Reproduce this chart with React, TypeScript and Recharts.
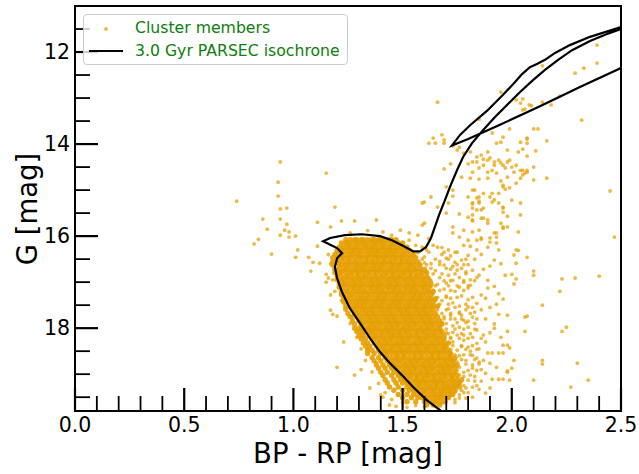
import { ScatterChart, Scatter, XAxis, YAxis, ReferenceArea } from "recharts";

const FONT = "'DejaVu Sans', sans-serif";
const ORANGE = "#E69F00";

// looser members: [BP-RP, G]
const members: [number, number][] = [
  // blue stragglers / blue side
  [0.74, 15.24], [0.94, 14.39], [1.15, 14.63], [0.93, 14.83], [0.93, 15.13], [0.94, 15.41], [0.97, 15.39],
  [0.86, 15.63], [0.94, 15.63], [0.97, 15.74], [0.88, 15.85], [0.96, 15.87], [0.98, 15.91], [0.94, 15.98],
  [0.98, 16.02], [1.01, 16.0], [0.84, 16.07], [0.82, 16.17], [0.9, 16.39], [1.02, 16.3], [1.01, 16.46],
  [1.11, 15.7], [1.17, 15.8], [1.19, 15.37], [1.07, 16.46], [1.09, 16.57], [1.12, 16.59], [1.11, 16.22],
  [1.08, 16.76], [1.15, 16.83], [1.15, 17.0], [1.16, 16.91], [1.17, 17.28], [1.17, 17.61], [1.18, 17.7],
  [1.2, 17.74], [1.2, 18.85],
  // around the turn-off
  [1.22, 15.67], [1.28, 15.67], [1.38, 15.65], [1.41, 15.91], [1.49, 15.87], [1.53, 15.93], [1.59, 15.76],
  [1.53, 16.09], [1.57, 15.98], [1.66, 15.37], [1.6, 15.26], [1.7, 15.5], [1.73, 15.93], [1.82, 15.65],
  [1.89, 15.65], [1.93, 16.02], [1.59, 15.28], [1.63, 15.15], [1.6, 15.72], [1.64, 16.2], [1.59, 16.24],
  [1.66, 16.24], [1.47, 16.12], [1.5, 16.16], [1.56, 16.2], [1.61, 16.3], [1.45, 15.98], [1.34, 15.88],
  [1.26, 15.93], [1.62, 16.05], [1.52, 16.3], [1.55, 16.42],
  // blueward of the main sequence
  [1.16, 16.4], [1.17, 16.6], [1.18, 16.95], [1.19, 17.2], [1.21, 17.1], [1.22, 17.4], [1.24, 17.55],
  [1.27, 17.75], [1.26, 17.9], [1.3, 18.05], [1.29, 18.2], [1.23, 18.3], [1.31, 18.45], [1.34, 18.45],
  [1.33, 18.7], [1.38, 18.75], [1.31, 18.9], [1.36, 18.95], [1.28, 19.02], [1.39, 19.2], [1.35, 19.3],
  [1.42, 19.4], [1.4, 19.45], [1.45, 19.55], [1.41, 19.5], [1.44, 19.67], [1.47, 19.7], [1.52, 19.72],
  [1.5, 19.62], [1.56, 19.68], [1.6, 19.7], [1.66, 19.66], [1.7, 19.6],
  // giant branch and red clump
  [1.66, 13.09], [1.85, 13.46], [1.95, 12.87], [2.04, 13.11], [2.02, 13.04], [2.05, 13.26], [2.08, 13.15],
  [1.99, 13.67], [1.96, 13.85], [1.95, 13.96], [1.93, 13.98], [1.91, 13.76], [2.07, 13.87], [2.07, 13.98],
  [2.1, 13.67], [1.98, 14.13], [2.04, 13.96], [2.03, 14.17],
  [1.81, 14.17], [1.84, 14.28], [1.86, 14.24], [1.89, 14.35], [1.9, 14.3], [1.92, 14.39], [1.95, 14.41],
  [1.96, 14.46], [1.94, 14.35], [1.98, 14.39], [1.99, 14.35], [1.97, 14.52], [2.0, 14.5], [2.02, 14.46],
  [2.04, 14.57], [2.01, 14.61], [2.07, 14.61], [2.05, 14.67], [1.87, 14.46], [1.85, 14.52], [1.82, 14.61],
  [1.89, 14.61], [1.91, 14.57], [1.93, 14.63], [1.89, 14.17], [1.82, 14.39], [1.8, 14.43], [1.78, 14.2],
  [1.75, 14.13], [1.73, 14.04], [1.68, 13.8], [1.64, 13.87], [1.65, 13.98], [1.69, 13.98], [1.69, 13.91],
  [1.62, 13.98], [1.76, 14.07], [1.84, 14.39], [1.92, 14.46], [1.87, 14.33],
  [1.69, 14.54], [1.72, 14.43], [1.77, 14.72], [1.81, 14.74], [1.85, 14.76], [1.89, 14.74], [1.95, 14.8],
  [1.98, 14.72], [2.04, 14.74], [2.07, 14.57], [1.96, 14.93], [1.83, 15.0], [1.8, 15.15], [1.73, 15.0],
  [1.73, 15.13], [1.7, 14.93], [1.71, 15.28], [1.82, 15.28], [1.85, 15.15], [1.85, 15.28], [1.9, 15.15],
  [1.91, 15.26], [1.94, 15.28], [1.96, 15.39], [1.82, 15.39], [1.84, 15.43], [1.87, 15.39], [1.76, 15.52],
  [1.8, 15.59], [1.82, 15.67], [1.86, 15.61], [1.89, 15.72], [1.73, 15.8], [1.78, 15.87], [1.82, 15.91],
  [1.85, 15.87], [1.92, 15.93], [1.96, 15.8], [1.76, 16.02], [1.8, 16.09], [1.86, 16.04], [1.9, 16.13],
  [1.93, 16.15], [1.98, 15.8], [2.03, 15.91],
  [1.96, 14.89], [1.97, 14.98], [1.99, 14.95], [2.02, 14.85], [1.94, 15.07], [1.91, 15.07], [1.92, 15.21],
  [2.0, 15.22], [1.96, 15.37], [1.96, 15.48], [1.98, 15.57], [1.87, 15.07], [1.82, 15.0], [1.84, 15.17],
  [1.85, 15.24], [1.82, 15.3], [1.86, 15.43], [1.82, 15.54], [1.87, 15.61], [1.95, 15.72], [1.96, 15.83],
  [1.93, 15.93], [1.9, 16.04], [1.86, 16.07], [1.84, 16.09],
  // bright red side
  [2.39, 11.85], [2.33, 12.35], [2.29, 12.46], [2.39, 12.24], [2.14, 12.3], [2.22, 12.96], [2.05, 13.02],
  [2.06, 13.24], [2.09, 13.17], [2.14, 13.09], [2.18, 13.15], [2.32, 13.48], [2.12, 13.67], [2.07, 13.89],
  [2.16, 13.93], [2.05, 14.11], [2.11, 14.15], [2.07, 14.26], [2.1, 14.5], [2.05, 14.57], [2.06, 14.63],
  [2.16, 14.74], [2.1, 14.78], [2.45, 15.02], [2.04, 15.28], [2.04, 15.54], [2.47, 16.02],
  // faint red side
  [2.1, 16.76], [2.1, 16.85], [2.23, 16.93], [2.29, 16.91], [2.4, 16.87], [2.22, 17.2], [2.14, 17.5],
  [2.06, 17.76], [2.07, 17.74], [2.25, 17.98], [2.23, 18.07], [2.06, 18.07], [1.98, 18.07], [2.14, 18.7],
  [2.14, 18.78], [2.3, 18.76], [2.1, 19.13], [2.27, 19.28], [2.35, 19.13], [2.01, 18.7], [2.0, 18.87],
  [1.98, 18.96], [1.99, 19.13], [1.96, 19.11], [1.94, 19.11], [1.91, 19.11], [1.88, 19.41], [1.85, 19.33],
  [2.02, 16.3], [2.01, 16.41], [2.03, 16.31], [2.07, 16.46], [2.02, 16.59], [2.0, 16.83], [2.01, 17.04],
  [2.02, 16.93], [1.98, 17.72], [1.96, 17.37], [1.93, 17.48], [1.92, 17.91], [1.98, 18.37], [1.96, 18.37],
  [1.99, 18.43], [1.96, 18.54], [1.94, 18.54], [1.91, 18.54], [1.89, 18.54], [1.98, 18.93], [1.9, 18.76],
  [1.87, 18.7], [1.85, 18.74], [1.82, 18.87], [1.88, 18.98],
  [1.78, 16.2], [1.81, 16.22], [1.84, 16.3], [1.89, 16.24], [1.94, 16.3], [1.92, 16.52], [1.9, 16.65],
  [1.87, 16.72], [1.85, 16.85], [1.89, 16.96], [1.92, 17.09], [1.89, 17.13], [1.81, 17.07], [1.8, 17.13],
  [1.76, 17.11], [1.73, 16.96], [1.7, 17.02], [1.77, 16.52], [1.74, 16.57], [1.72, 16.43], [1.69, 16.63],
  [1.75, 16.74], [1.79, 16.78], [1.82, 16.74], [1.86, 17.28], [1.84, 17.46], [1.8, 17.54], [1.76, 17.65],
  [1.72, 17.72], [1.83, 17.65], [1.82, 17.76], [1.78, 17.83], [1.76, 17.98], [1.73, 18.09], [1.8, 17.98],
  [1.84, 18.04], [1.87, 18.15], [1.82, 18.2], [1.78, 18.26], [1.73, 18.3], [1.84, 18.33], [1.8, 18.41],
  [1.75, 18.48], [1.82, 18.59], [1.79, 18.7], [1.75, 18.74], [1.82, 18.8], [1.78, 18.96], [1.74, 18.98],
  [1.8, 19.13], [1.76, 19.2], [1.72, 19.28], [1.82, 19.28], [1.74, 19.39],
  // redward of the core
  [1.7, 16.48], [1.73, 16.66], [1.71, 16.85], [1.76, 16.9], [1.78, 17.0], [1.74, 17.2], [1.7, 17.3],
  [1.77, 17.3], [1.8, 17.38], [1.73, 17.45], [1.76, 17.52], [1.79, 17.6], [1.71, 17.58], [1.74, 17.8],
  [1.7, 17.9], [1.77, 17.72], [1.8, 17.85], [1.83, 17.9], [1.86, 17.6], [1.88, 17.8], [1.85, 18.45],
  [1.88, 18.3], [1.9, 18.1], [1.78, 18.15], [1.81, 18.5], [1.76, 18.6], [1.84, 18.65], [1.86, 18.9],
  [1.83, 19.05], [1.79, 19.3], [1.76, 19.45], [1.82, 19.5], [1.86, 19.15], [1.9, 19.3], [1.93, 18.85],
  [1.95, 18.2], [1.92, 18.0], [1.94, 17.7], [1.9, 17.55], [1.88, 17.35], [1.94, 17.25], [1.97, 16.85],
  [1.95, 16.6], [1.83, 16.5], [1.8, 16.42], [1.86, 16.4], [1.78, 16.62], [1.84, 16.9], [1.81, 16.95],
  [1.75, 16.35], [1.71, 16.3], [1.68, 16.4], [1.67, 16.55],
  [1.6, 16.45], [1.63, 16.6], [1.65, 16.75], [1.62, 16.9], [1.66, 17.05], [1.64, 17.25], [1.68, 17.4],
  [1.66, 17.6], [1.69, 17.75], [1.67, 17.95], [1.7, 18.1], [1.72, 18.2], [1.69, 18.35], [1.72, 18.55],
  [1.74, 18.7], [1.71, 18.85], [1.73, 19.1], [1.75, 19.25], [1.7, 19.45], [1.58, 16.6], [1.61, 16.8],
  [1.63, 17.1], [1.65, 17.4], [1.6, 17.05], [1.67, 16.9], [1.69, 17.15], [1.72, 17.35], [1.7, 17.6],
  [1.73, 17.95], [1.75, 18.15], [1.77, 18.4], [1.76, 18.85], [1.78, 19.05], [1.77, 19.35], [1.74, 19.55],
  [1.68, 19.52], [1.72, 16.72], [1.68, 16.25], [1.57, 16.36], [1.6, 16.58],
  // crowded fringe on the red edge of the core
  [1.62, 16.35], [1.69, 16.35], [1.74, 16.35], [1.59, 16.5], [1.65, 16.5], [1.71, 16.5], [1.79, 16.5],
  [1.61, 16.62], [1.67, 16.62], [1.75, 16.62], [1.8, 16.62], [1.63, 16.7], [1.7, 16.7], [1.77, 16.7],
  [1.64, 16.82], [1.68, 16.82], [1.74, 16.82], [1.79, 16.82], [1.63, 16.97], [1.69, 16.97], [1.72, 16.97],
  [1.78, 16.97], [1.83, 16.97], [1.65, 17.08], [1.71, 17.08], [1.75, 17.08], [1.8, 17.08], [1.64, 17.18],
  [1.67, 17.18], [1.72, 17.18], [1.78, 17.18], [1.66, 17.33], [1.7, 17.33], [1.75, 17.33], [1.82, 17.33],
  [1.67, 17.48], [1.71, 17.48], [1.79, 17.48], [1.66, 17.55], [1.74, 17.55], [1.82, 17.55], [1.68, 17.68],
  [1.72, 17.68], [1.76, 17.68], [1.81, 17.68], [1.69, 17.8], [1.72, 17.8], [1.77, 17.8], [1.84, 17.8],
  [1.68, 17.88], [1.75, 17.88], [1.79, 17.88], [1.7, 18.02], [1.74, 18.02], [1.78, 18.02], [1.83, 18.02],
  [1.71, 18.12], [1.77, 18.12], [1.81, 18.12], [1.72, 18.22], [1.76, 18.22], [1.8, 18.22], [1.86, 18.22],
  [1.73, 18.38], [1.77, 18.38], [1.82, 18.38], [1.72, 18.46], [1.79, 18.46], [1.84, 18.46], [1.74, 18.58],
  [1.78, 18.58], [1.81, 18.58], [1.73, 18.68], [1.77, 18.68], [1.83, 18.68], [1.74, 18.78], [1.79, 18.78],
  [1.85, 18.78], [1.75, 18.92], [1.8, 18.92], [1.84, 18.92], [1.76, 19.02], [1.81, 19.02], [1.77, 19.15],
  [1.83, 19.15], [1.78, 19.25], [1.74, 19.25], [1.84, 19.25], [1.72, 19.4], [1.78, 19.4], [1.8, 19.4],
  [1.71, 19.52], [1.76, 19.52], [1.79, 19.52], [1.68, 19.62], [1.74, 19.62],
];

// dense main-sequence core: [G, BP-RP values in hundredths of a mag]
const coreRows: [number, number[]][] = [
  [16.08, [124, 126, 128, 129, 131, 132, 134, 136, 137, 139, 140, 142, 144, 145, 147]],
  [16.15, [122, 124, 125, 127, 129, 130, 132, 133, 135, 137, 138, 140, 141, 143, 145, 146, 148, 150]],
  [16.24, [121, 123, 125, 126, 128, 129, 131, 133, 134, 136, 137, 139, 141, 142, 144, 145, 147, 149, 150, 152]],
  [16.31, [120, 122, 123, 125, 127, 128, 130, 131, 133, 135, 136, 138, 139, 141, 143, 144, 146, 147, 149, 151, 153]],
  [16.4, [119, 121, 122, 124, 126, 127, 129, 130, 132, 134, 135, 137, 138, 140, 142, 143, 145, 146, 148, 150, 151, 153, 155]],
  [16.47, [118, 120, 122, 123, 125, 126, 128, 130, 131, 133, 134, 136, 138, 139, 141, 142, 144, 146, 147, 149, 150, 152, 154, 156]],
  [16.56, [118, 120, 121, 123, 125, 126, 128, 129, 131, 133, 134, 136, 137, 139, 141, 142, 144, 145, 147, 149, 150, 152, 153, 155, 157]],
  [16.63, [118, 121, 122, 124, 125, 127, 129, 130, 132, 133, 135, 137, 138, 140, 141, 143, 145, 146, 148, 149, 151, 153, 154, 156, 158]],
  [16.72, [119, 121, 123, 124, 126, 128, 129, 131, 132, 134, 136, 137, 139, 140, 142, 144, 145, 147, 148, 150, 152, 153, 155, 156, 158, 160]],
  [16.79, [119, 121, 122, 124, 126, 127, 129, 130, 132, 134, 135, 137, 138, 140, 142, 143, 145, 146, 148, 150, 151, 153, 154, 156, 158, 159, 161]],
  [16.88, [120, 122, 124, 125, 127, 129, 130, 132, 133, 135, 137, 138, 140, 141, 143, 145, 146, 148, 149, 151, 153, 154, 156, 157, 159, 161]],
  [16.95, [120, 122, 123, 125, 127, 128, 130, 131, 133, 135, 136, 138, 139, 141, 143, 144, 146, 147, 149, 151, 152, 154, 155, 157, 159, 160, 162]],
  [17.04, [121, 123, 124, 126, 128, 129, 131, 132, 134, 136, 137, 139, 140, 142, 144, 145, 147, 148, 150, 152, 153, 155, 156, 158, 160, 161, 163]],
  [17.11, [121, 123, 125, 127, 128, 130, 131, 133, 135, 136, 138, 139, 141, 143, 144, 146, 147, 149, 151, 152, 154, 155, 157, 159, 160, 162]],
  [17.2, [122, 124, 125, 127, 129, 130, 132, 133, 135, 137, 138, 140, 141, 143, 145, 146, 148, 149, 151, 153, 154, 156, 157, 159, 161, 162, 164]],
  [17.27, [122, 124, 126, 127, 129, 131, 132, 134, 135, 137, 139, 140, 142, 143, 145, 147, 148, 150, 151, 153, 155, 156, 158, 159, 161, 163]],
  [17.36, [123, 125, 126, 128, 130, 131, 133, 134, 136, 138, 139, 141, 142, 144, 146, 147, 149, 150, 152, 154, 155, 157, 158, 160, 162, 163, 165]],
  [17.43, [123, 125, 127, 129, 130, 132, 133, 135, 137, 138, 140, 141, 143, 145, 146, 148, 149, 151, 153, 154, 156, 157, 159, 161, 162, 164]],
  [17.52, [124, 126, 128, 129, 131, 132, 134, 136, 137, 139, 140, 142, 144, 145, 147, 148, 150, 152, 153, 155, 156, 158, 160, 161, 163, 164, 166]],
  [17.59, [124, 127, 128, 130, 132, 133, 135, 136, 138, 140, 141, 143, 144, 146, 148, 149, 151, 152, 154, 156, 157, 159, 160, 162, 164]],
  [17.68, [125, 128, 129, 131, 133, 134, 136, 137, 139, 141, 142, 144, 145, 147, 149, 150, 152, 153, 155, 157, 158, 160, 161, 163, 165]],
  [17.75, [126, 129, 130, 132, 134, 135, 137, 138, 140, 142, 143, 145, 146, 148, 150, 151, 153, 154, 156, 158, 159, 161, 162, 164, 166]],
  [17.84, [127, 130, 131, 133, 135, 136, 138, 139, 141, 143, 144, 146, 147, 149, 151, 152, 154, 155, 157, 159, 160, 162, 163, 165, 167]],
  [17.91, [128, 131, 132, 134, 136, 137, 139, 140, 142, 144, 145, 147, 148, 150, 152, 153, 155, 156, 158, 160, 161, 163, 164, 166, 168]],
  [18.0, [128, 130, 132, 134, 135, 137, 138, 140, 142, 143, 145, 146, 148, 150, 151, 153, 154, 156, 158, 159, 161, 162, 164, 166, 167]],
  [18.07, [129, 131, 133, 135, 136, 138, 140, 141, 143, 144, 146, 148, 149, 151, 152, 154, 156, 157, 159, 160, 162, 164, 165, 167, 168]],
  [18.16, [130, 132, 135, 137, 138, 140, 141, 143, 145, 146, 148, 149, 151, 153, 154, 156, 157, 159, 161, 162, 164, 165, 167, 169]],
  [18.23, [131, 133, 136, 137, 139, 141, 142, 144, 145, 147, 149, 150, 152, 153, 155, 157, 158, 160, 161, 163, 165, 166, 168, 169]],
  [18.32, [132, 134, 137, 139, 140, 142, 143, 145, 147, 148, 150, 151, 153, 155, 156, 158, 159, 161, 163, 164, 166, 167, 169, 171]],
  [18.39, [133, 135, 138, 140, 141, 143, 145, 146, 148, 149, 151, 153, 154, 156, 157, 159, 161, 162, 164, 165, 167, 169, 170]],
  [18.48, [134, 136, 139, 141, 142, 144, 145, 147, 149, 150, 152, 153, 155, 157, 158, 160, 161, 163, 165, 166, 168, 169, 171]],
  [18.55, [134, 137, 140, 142, 143, 145, 147, 148, 150, 151, 153, 155, 156, 158, 159, 161, 163, 164, 166, 167, 169, 171, 172]],
  [18.64, [136, 139, 142, 143, 145, 147, 148, 150, 151, 153, 155, 156, 158, 159, 161, 163, 164, 166, 167, 169, 171, 172, 174]],
  [18.71, [137, 140, 143, 145, 146, 148, 149, 151, 153, 154, 156, 157, 159, 161, 162, 164, 165, 167, 169, 170, 172, 173]],
  [18.8, [138, 141, 144, 146, 147, 149, 151, 152, 154, 155, 157, 159, 160, 162, 163, 165, 167, 168, 170, 171, 173, 175]],
  [18.87, [139, 142, 145, 147, 148, 150, 152, 153, 155, 156, 158, 160, 161, 163, 164, 166, 168, 169, 171, 172, 174]],
  [18.96, [140, 143, 146, 148, 150, 151, 153, 154, 156, 158, 159, 161, 162, 164, 166, 167, 169, 170, 172, 174]],
  [19.03, [141, 145, 148, 149, 151, 153, 154, 156, 157, 159, 161, 162, 164, 165, 167, 169, 170, 172, 173, 175]],
  [19.12, [142, 146, 149, 151, 152, 154, 156, 157, 159, 160, 162, 164, 165, 167, 168, 170, 172, 173, 175, 177]],
  [19.19, [143, 147, 150, 152, 153, 155, 157, 158, 160, 161, 163, 165, 166, 168, 169, 171, 173, 174, 176]],
  [19.28, [144, 148, 152, 154, 155, 157, 158, 160, 162, 163, 165, 166, 168, 170, 171, 173, 174, 176]],
  [19.35, [146, 150, 153, 155, 156, 158, 160, 161, 163, 164, 166, 168, 169, 171, 172, 174]],
  [19.44, [148, 152, 155, 157, 159, 160, 162, 164, 165, 167, 168, 170, 172, 173]],
  [19.51, [150, 154, 157, 159, 161, 162, 164, 166, 167, 169, 171]],
  [19.6, [152, 156, 160, 162, 164, 165, 167, 169]],
  [19.67, [161, 164, 167]],
];

// 3.0 Gyr PARSEC isochrone, [BP-RP, G] from the faint MS through RGB tip, clump and AGB
const isochrone: [number, number][] = [
  [1.74, 20.05], [1.685, 19.83], [1.612, 19.57], [1.548, 19.28], [1.497, 19.02], [1.442, 18.76],
  [1.397, 18.52], [1.351, 18.22], [1.305, 17.89], [1.259, 17.57], [1.223, 17.22], [1.2, 16.91],
  [1.19, 16.67], [1.2, 16.48], [1.223, 16.37], [1.2, 16.26], [1.136, 16.11], [1.168, 16.04],
  [1.236, 15.98], [1.314, 15.96], [1.397, 16.0], [1.451, 16.09], [1.506, 16.22], [1.548, 16.33],
  [1.58, 16.33], [1.607, 16.24], [1.63, 16.04], [1.648, 15.8], [1.667, 15.54], [1.694, 15.22],
  [1.717, 14.93], [1.749, 14.57], [1.777, 14.28], [1.818, 13.98], [1.868, 13.7], [1.923, 13.41],
  [1.978, 13.15], [2.038, 12.87], [2.097, 12.61], [2.152, 12.39], [2.212, 12.17], [2.276, 11.96],
  [2.358, 11.76], [2.436, 11.61], [2.5, 11.5], [3.3, 10.6],
  [2.312, 12.76], [2.129, 13.18], [1.946, 13.58], [1.8, 13.89], [1.726, 14.03],
  [1.763, 13.8], [1.809, 13.59], [1.886, 13.28], [1.96, 12.93], [2.015, 12.65], [2.047, 12.48],
  [2.083, 12.33], [2.115, 12.26], [2.152, 12.17], [2.198, 12.02], [2.266, 11.85], [2.358, 11.67],
  [2.5, 11.46], [2.8, 11.0],
];

const xTicks = [0, 0.1, 0.2, 0.3, 0.4, 0.5, 0.6, 0.7, 0.8, 0.9, 1, 1.1, 1.2, 1.3, 1.4, 1.5, 1.6, 1.7, 1.8, 1.9, 2, 2.1, 2.2, 2.3, 2.4, 2.5];
const xLabels = [0, 0.5, 1, 1.5, 2, 2.5];
const yTicks = [11.5, 12, 12.5, 13, 13.5, 14, 14.5, 15, 15.5, 16, 16.5, 17, 17.5, 18, 18.5, 19, 19.5];
const yLabels = [12, 14, 16, 18];

const memberData = members.map(([c, g]) => ({ c, g }));
const coreData = coreRows.flatMap(([g, cs]) => cs.map((v) => ({ c: v / 100, g })));
const isoData = isochrone.map(([c, g]) => ({ c, g }));

const isMajor = (list: number[], v: number) => list.some((l) => Math.abs(l - v) < 1e-6);

const X_GAP = 6;
const Y_GAP = 5;

const XTick = (props: any) => {
  const { x, y, payload } = props;
  const major = isMajor(xLabels, payload.value);
  const edge = y - X_GAP;
  return (
    <g>
      <line x1={x} x2={x} y1={edge} y2={edge - (major ? 23 : 15)} stroke="#000" strokeWidth={major ? 2.2 : 1.8} />
      {major && (
        <text x={x} y={y} dy="0.73em" textAnchor="middle" fontSize={20.5} fontFamily={FONT} fill="#000">
          {payload.value.toFixed(1)}
        </text>
      )}
    </g>
  );
};

const YTick = (props: any) => {
  const { x, y, payload } = props;
  const major = isMajor(yLabels, payload.value);
  const edge = x + Y_GAP;
  return (
    <g>
      <line x1={edge} x2={edge + (major ? 23 : 15)} y1={y} y2={y} stroke="#000" strokeWidth={major ? 2.2 : 1.8} />
      {major && (
        <text x={x} y={y} dy="0.35em" textAnchor="end" fontSize={20.5} fontFamily={FONT} fill="#000">
          {payload.value}
        </text>
      )}
    </g>
  );
};

const XTitle = () => (
  <text x={348} y={463} textAnchor="middle" fontSize={27.5} fontFamily={FONT} fill="#000">
    BP - RP [mag]
  </text>
);

const YTitle = () => (
  <text x={36.5} y={209} transform="rotate(-90 36.5 209)" textAnchor="middle" fontSize={27.5} fontFamily={FONT} fill="#000">
    G [mag]
  </text>
);

const StarDot = (p: any) => <circle cx={p.cx} cy={p.cy} r={1.9} fill={ORANGE} fillOpacity={0.72} />;
// the crowded core overlaps heavily, so its dots are drawn larger and nearly opaque
const CoreDot = (p: any) => <circle cx={p.cx} cy={p.cy} r={2.7} fill={ORANGE} fillOpacity={0.9} />;
const NoDot = () => <g />;

const legendText = {
  position: "absolute" as const,
  left: 51,
  fontSize: 15.7,
  lineHeight: "20px",
  color: "#0b800b",
  whiteSpace: "nowrap" as const,
};

export default function App() {
  return (
    <div style={{ position: "absolute", left: 0, top: 0, width: 639, height: 474, background: "#fff", fontFamily: FONT }}>
      <ScatterChart width={639} height={474} margin={{ top: 6, right: 18, bottom: 0, left: 0 }}>
        <Scatter data={memberData} shape={StarDot} isAnimationActive={false} />
        <Scatter data={coreData} shape={CoreDot} isAnimationActive={false} />
        <Scatter data={isoData} shape={NoDot} line={{ stroke: "#000", strokeWidth: 2.2 }} isAnimationActive={false} />
        <XAxis
          type="number"
          dataKey="c"
          domain={[0, 2.5]}
          allowDataOverflow
          ticks={xTicks}
          interval={0}
          tick={<XTick />}
          tickSize={0}
          tickMargin={X_GAP}
          axisLine={false}
          height={63}
          label={<XTitle />}
        />
        <YAxis
          type="number"
          dataKey="g"
          domain={[11, 19.8]}
          reversed
          allowDataOverflow
          ticks={yTicks}
          interval={0}
          tick={<YTick />}
          tickSize={0}
          tickMargin={Y_GAP}
          axisLine={false}
          width={75}
          label={<YTitle />}
        />
        <ReferenceArea x1={0} x2={2.5} y1={11} y2={19.8} fill="none" stroke="#000" strokeWidth={2} />
      </ScatterChart>
      <div
        style={{
          position: "absolute",
          left: 83,
          top: 14,
          width: 265,
          height: 51,
          boxSizing: "border-box",
          background: "rgba(255,255,255,0.8)",
          border: "1px solid #cccccc",
          borderRadius: 4,
        }}
      >
        <div
          style={{
            position: "absolute",
            left: 22 - 2,
            top: 13.7 - 2,
            width: 4,
            height: 4,
            borderRadius: "50%",
            background: ORANGE,
            opacity: 0.72,
          }}
        />
        <div style={{ ...legendText, top: 2.6 }}>Cluster members</div>
        <div style={{ position: "absolute", left: 5, top: 35, width: 34, height: 2.2, background: "#000" }} />
        <div style={{ ...legendText, top: 26.3 }}>3.0 Gyr PARSEC isochrone</div>
      </div>
    </div>
  );
}
